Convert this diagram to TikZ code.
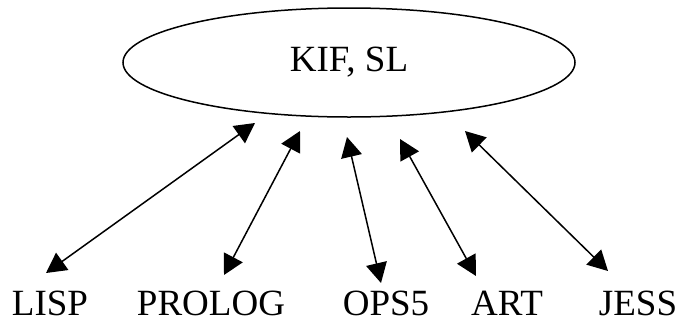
\documentclass[tikz,border=0pt]{standalone}
\usepackage{fontspec}
\setmainfont{Liberation Serif}
\usetikzlibrary{arrows.meta,shapes.geometric}
\begin{document}
\begin{tikzpicture}[x=1pt,y=-1pt,
  lbl/.style={font=\fontsize{37}{40}\selectfont, inner sep=0pt, anchor=base},
  hub/.style={draw, ellipse, line width=1.5pt, minimum width=452pt, minimum height=109pt, inner sep=0pt, font=\fontsize{37}{40}\selectfont},
  link/.style={line width=1.5pt, {Triangle[length=20pt,width=21pt]}-{Triangle[length=20pt,width=21pt]}}
]
\useasboundingbox (0,0) rectangle (677,322);
\node[hub] (kif) at (349,62.5) {KIF, SL};
\node[lbl] (lisp) at (50,315) {LISP};
\node[lbl] (prolog) at (211,315) {PROLOG};
\node[lbl] (ops) at (386,315) {OPS5};
\node[lbl] (art) at (507,315) {ART};
\node[lbl] (jess) at (638,315) {JESS};
\coordinate (lispB) at (46,273);
\coordinate (lispT) at (255,123);
\coordinate (prologB) at (224,275);
\coordinate (prologT) at (300,131);
\coordinate (opsB) at (381,283);
\coordinate (opsT) at (347,137);
\coordinate (artB) at (476,276);
\coordinate (artT) at (400,139);
\coordinate (jessB) at (608,271);
\coordinate (jessT) at (465,131);
\draw[link] (lispB) -- (lispT);
\draw[link] (prologB) -- (prologT);
\draw[link] (opsB) -- (opsT);
\draw[link] (artB) -- (artT);
\draw[link] (jessB) -- (jessT);
\end{tikzpicture}
\end{document}
